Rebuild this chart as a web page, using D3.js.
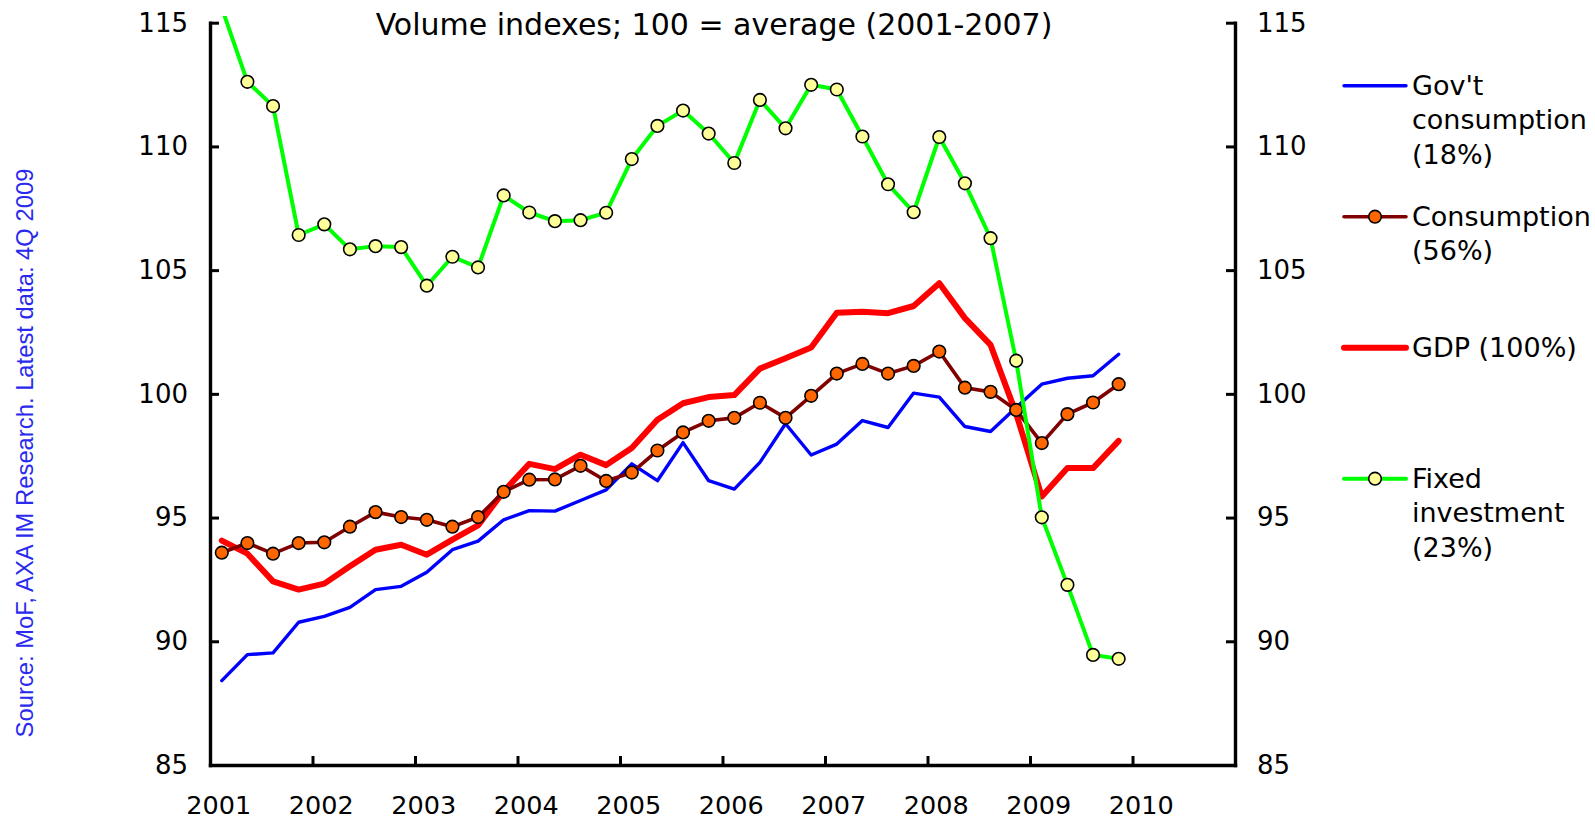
<!DOCTYPE html>
<html>
<head>
<meta charset="utf-8">
<script src="https://cdn.jsdelivr.net/npm/d3@7"></script>
<style>
	body { margin: 0; background: #fff; }
	#chart { width: 1595px; height: 821px; }
	text { font-family: "DejaVu Sans", Verdana, sans-serif; fill: #000; }
	.source { font-family: "Liberation Sans", Arial, sans-serif; fill: #2a2aee; }
</style>
</head>
<body>
<div id="chart"></div>
<script>
"use strict"

// Japan, real demand components, volume indexes (100 = average 2001-2007)
const quarters = [
	"2001Q1","2001Q2","2001Q3","2001Q4","2002Q1","2002Q2","2002Q3","2002Q4",
	"2003Q1","2003Q2","2003Q3","2003Q4","2004Q1","2004Q2","2004Q3","2004Q4",
	"2005Q1","2005Q2","2005Q3","2005Q4","2006Q1","2006Q2","2006Q3","2006Q4",
	"2007Q1","2007Q2","2007Q3","2007Q4","2008Q1","2008Q2","2008Q3","2008Q4",
	"2009Q1","2009Q2","2009Q3","2009Q4"
];

const govtConsumption = [
	88.41, 89.46, 89.53, 90.77, 91.01, 91.37, 92.09, 92.22, 92.79, 93.70,
	94.05, 94.91, 95.28, 95.26, 95.69, 96.12, 97.17, 96.49, 98.03, 96.49,
	96.15, 97.23, 98.79, 97.53, 97.97, 98.92, 98.64, 100.03, 99.87, 98.68,
	98.48, 99.45, 100.39, 100.63, 100.73, 101.60
];

const consumption = [
	93.58, 93.97, 93.54, 93.97, 94.00, 94.63, 95.22, 95.02, 94.91, 94.63,
	95.02, 96.04, 96.53, 96.54, 97.09, 96.48, 96.82, 97.71, 98.44, 98.91,
	99.03, 99.64, 99.03, 99.92, 100.82, 101.21, 100.82, 101.13, 101.71, 100.25,
	100.08, 99.35, 98.01, 99.18, 99.65, 100.39
];

const gdp = [
	94.07, 93.54, 92.42, 92.09, 92.33, 93.03, 93.70, 93.90, 93.50, 94.11,
	94.68, 96.06, 97.17, 96.96, 97.54, 97.12, 97.81, 98.95, 99.62, 99.87,
	99.95, 101.02, 101.44, 101.87, 103.28, 103.32, 103.26, 103.55, 104.47, 103.06,
	101.98, 99.20, 95.85, 97.00, 97.00, 98.10
];

const fixedInvestment = [
	115.60, 112.61, 111.63, 106.42, 106.85, 105.84, 105.97, 105.93, 104.37, 105.54,
	105.11, 108.02, 107.33, 106.98, 107.02, 107.32, 109.49, 110.83, 111.45, 110.52,
	109.33, 111.88, 110.73, 112.49, 112.30, 110.40, 108.47, 107.34, 110.38, 108.51,
	106.29, 101.34, 95.01, 92.28, 89.45, 89.29
];

const seriesNames = [
	["Gov't", "consumption", "(18%)"],
	["Consumption", "(56%)"],
	["GDP (100%)"],
	["Fixed", "investment", "(23%)"]
];

const yearTicks = [2001, 2002, 2003, 2004, 2005, 2006, 2007, 2008, 2009, 2010];
const valueTicks = [85, 90, 95, 100, 105, 110, 115];

const chartTitle = "Volume indexes; 100 = average (2001-2007)";
const sourceNote = "Source: MoF, AXA IM Research. Latest data: 4Q 2009";


let VolumeChart = function(targetID) {
	let self = {
		targetID: "",
		target: null,
		svg: null,
		totalWidth: 1595,
		totalHeight: 821,
		plot: {left: 210, right: 1235, top: 22.7, bottom: 765, clipTop: 16},

		xScale: d3.scaleLinear(),
		yScale: d3.scaleLinear(),

		// quarterly points sit a little after the start of each quarter
		pointOffset: 0.115,

		// drawing order matters: GDP below, fixed investment on top
		series: [
			{values: govtConsumption, name: 0, color: "#0000ff", width: 3.4, marker: null, order: 1},
			{values: consumption, name: 1, color: "#800000", width: 3.6, marker: "#ff6600", order: 2},
			{values: gdp, name: 2, color: "#ff0000", width: 6, marker: null, order: 0},
			{values: fixedInvestment, name: 3, color: "#00ff00", width: 4, marker: "#ffff99", order: 3},
		],
	}

	init();

	function init() {
		self.targetID = targetID;
	}

	function quarterToYear(q) {
		return +q.slice(0, 4) + (+q.slice(5) - 1) / 4 + self.pointOffset;
	}

	function draw() {
		self.target = d3.select(self.targetID);
		self.svg = self.target.append("svg")
			.attr("width", self.totalWidth)
			.attr("height", self.totalHeight);

		let p = self.plot;
		self.xScale.domain([2001, 2011]).range([p.left, p.right]);
		self.yScale.domain([85, 115]).range([p.bottom, p.top]);

		self.svg.append("defs").append("clipPath").attr("id", "plotClip")
			.append("rect")
				.attr("x", p.left)
				.attr("y", p.clipTop)
				.attr("width", p.right - p.left)
				.attr("height", p.bottom - p.clipTop);

		drawAxes();
		drawSeries();
		drawLegend();
		drawTexts();
	}

	function drawAxes() {
		let p = self.plot;
		let g = self.svg.append("g").attr("class", "axes");

		let left = d3.axisLeft(self.yScale).tickValues(valueTicks).tickSizeInner(-9).tickSizeOuter(0).tickPadding(22);
		let right = d3.axisRight(self.yScale).tickValues(valueTicks).tickSizeInner(-9).tickSizeOuter(0).tickPadding(22);
		let bottom = d3.axisBottom(self.xScale).tickValues(yearTicks).tickSizeInner(-9).tickSizeOuter(0).tickFormat("");

		g.append("g").attr("transform", `translate(${p.left},0)`).call(left);
		g.append("g").attr("transform", `translate(${p.right},0)`).call(right);
		g.append("g").attr("transform", `translate(0,${p.bottom})`).call(bottom);

		g.selectAll(".domain").attr("stroke", "#000").attr("stroke-width", 3.4).attr("stroke-linecap", "square");
		g.selectAll(".tick line").attr("stroke", "#000").attr("stroke-width", 3);
		g.selectAll(".tick text")
			.style("font-family", "'DejaVu Sans', Verdana, sans-serif")
			.style("font-size", "26px")
			.attr("fill", "#000");

		// year labels sit under the first quarter of each year
		g.append("g").selectAll("text")
			.data(yearTicks)
			.enter().append("text")
				.attr("x", d => self.xScale(d + self.pointOffset) - 3)
				.attr("y", 814)
				.attr("text-anchor", "middle")
				.style("font-size", "25.5px")
				.text(d => d);
	}

	function drawSeries() {
		let line = d3.line()
			.x((d, i) => self.xScale(quarterToYear(quarters[i])))
			.y(d => self.yScale(d));

		let ordered = self.series.slice().sort((a, b) => a.order - b.order);
		let g = self.svg.append("g").attr("class", "series").attr("clip-path", "url(#plotClip)");

		ordered.forEach(s => {
			let sg = g.append("g");
			sg.append("path")
				.datum(s.values)
				.attr("d", line)
				.attr("fill", "none")
				.attr("stroke", s.color)
				.attr("stroke-width", s.width)
				.attr("stroke-linejoin", "round")
				.attr("stroke-linecap", "round");

			if (s.marker) {
				sg.selectAll("circle")
					.data(s.values.map((v, i) => ({v: v, q: quarters[i]})).filter(d => d.v <= 115))
					.enter().append("circle")
						.attr("cx", d => self.xScale(quarterToYear(d.q)))
						.attr("cy", d => self.yScale(d.v))
						.attr("r", 6.3)
						.attr("fill", s.marker)
						.attr("stroke", "#000")
						.attr("stroke-width", 1.6);
			}
		});
	}

	function drawLegend() {
		let lg = self.svg.append("g").attr("class", "legend");
		let x0 = 1344, x1 = 1406, top = 85.7, step = 131, lineH = 34.7;

		self.series.forEach(s => {
			let y = top + s.name * step;
			let item = lg.append("g");
			item.append("line")
				.attr("x1", x0).attr("x2", x1)
				.attr("y1", y).attr("y2", y)
				.attr("stroke", s.color)
				.attr("stroke-width", s.width)
				.attr("stroke-linecap", "round");
			if (s.marker) {
				item.append("circle")
					.attr("cx", (x0 + x1) / 2)
					.attr("cy", y)
					.attr("r", 6.3)
					.attr("fill", s.marker)
					.attr("stroke", "#000")
					.attr("stroke-width", 1.6);
			}
			item.append("text")
				.attr("x", 1412)
				.attr("y", y + 9)
				.style("font-size", "27px")
				.selectAll("tspan")
				.data(seriesNames[s.name])
				.enter().append("tspan")
					.attr("x", 1412)
					.attr("dy", (d, i) => i ? lineH : 0)
					.text(d => d);
		});
	}

	function drawTexts() {
		self.svg.append("text")
			.attr("x", 714)
			.attr("y", 34.5)
			.attr("text-anchor", "middle")
			.style("font-size", "30px")
			.text(chartTitle);

		self.svg.append("text")
			.attr("class", "source")
			.attr("transform", "translate(33,453)rotate(-90)")
			.attr("text-anchor", "middle")
			.style("font-size", "23.8px")
			.text(sourceNote);
	}

	return {
		draw,
	};
}

VolumeChart("#chart").draw();
</script>
</body>
</html>
